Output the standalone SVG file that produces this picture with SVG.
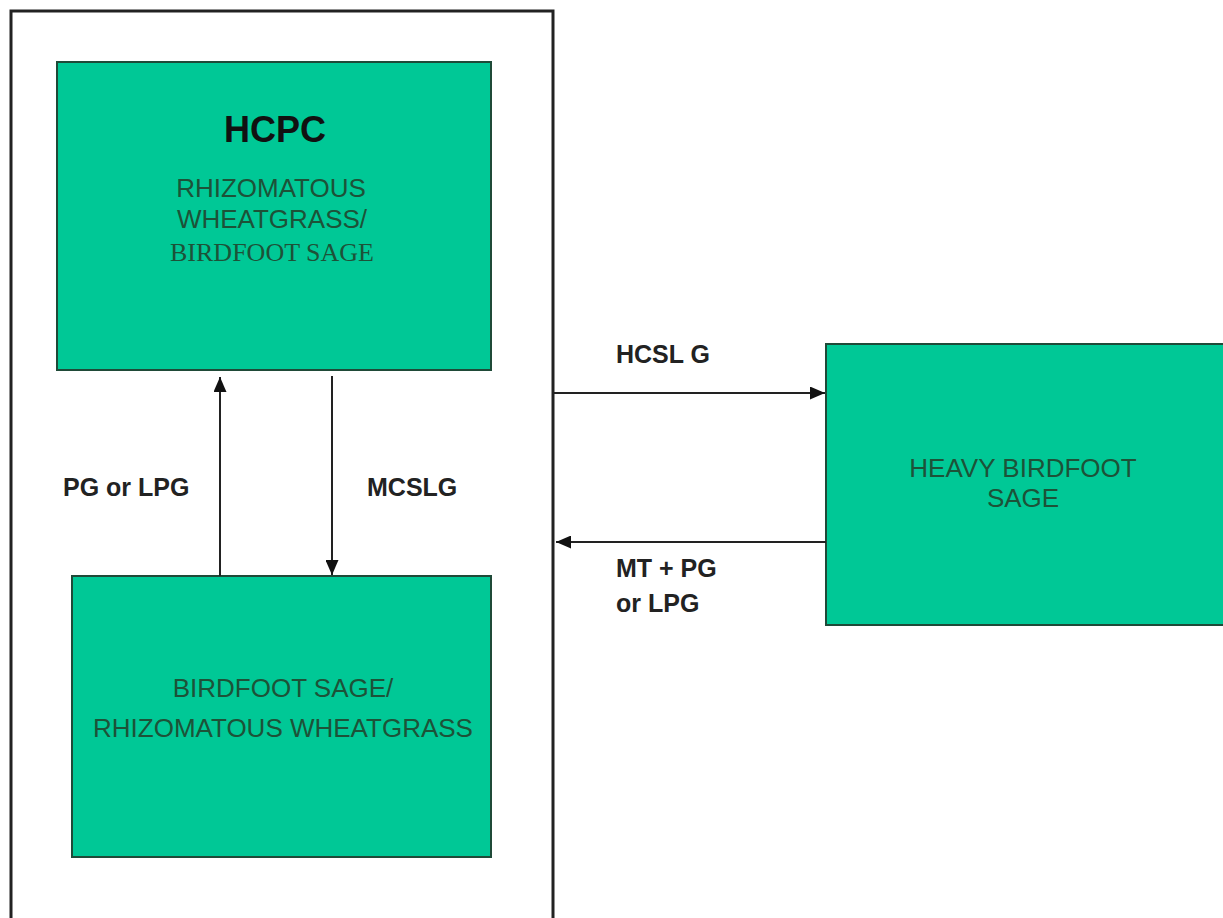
<svg xmlns="http://www.w3.org/2000/svg" width="1223" height="918" viewBox="0 0 1223 918">
<style>
.box{fill:#00c896;stroke:#1f4a38;stroke-width:2}
.t{font-family:"Liberation Sans",Arial,sans-serif;font-size:26px;fill:#1d5238;text-anchor:middle}
.ts{font-family:"Liberation Serif","Times New Roman",serif;font-size:26px;fill:#1d5238;text-anchor:middle}
.lbl{font-family:"Liberation Sans",Arial,sans-serif;font-size:25px;font-weight:bold;fill:#222}
.c{stroke:#222;stroke-width:2;fill:none}
</style>
<defs>
<marker id="ah" viewBox="0 0 10 10" refX="10" refY="5" markerWidth="15" markerHeight="13" orient="auto" markerUnits="userSpaceOnUse" preserveAspectRatio="none">
<path d="M0,0 L10,5 L0,10 z" fill="#111"/>
</marker>
</defs>
<rect width="1223" height="918" fill="#fff"/>
<path d="M11,918 L11,11 L553,11 L553,918" fill="none" stroke="#222" stroke-width="3"/>
<g id="hcpc">
<rect class="box" x="57" y="62" width="434" height="308"/>
<text x="275" y="142" font-family="Liberation Sans,Arial,sans-serif" font-size="36" font-weight="bold" fill="#111" text-anchor="middle">HCPC</text>
<text class="t" x="271" y="197">RHIZOMATOUS</text>
<text class="t" x="272" y="228">WHEATGRASS/</text>
<text class="ts" x="272" y="261">BIRDFOOT SAGE</text>
</g>
<g id="bsrw">
<rect class="box" x="72" y="576" width="419" height="281"/>
<text class="t" x="283" y="697">BIRDFOOT SAGE/</text>
<text class="t" x="283" y="737">RHIZOMATOUS WHEATGRASS</text>
</g>
<g id="hbs">
<rect class="box" x="826" y="344" width="400" height="281"/>
<text class="t" x="1023" y="477">HEAVY BIRDFOOT</text>
<text class="t" x="1023" y="507">SAGE</text>
</g>
<g id="connectors">
<line class="c" x1="220" y1="576" x2="220" y2="377" marker-end="url(#ah)"/>
<line class="c" x1="332" y1="376" x2="332" y2="575" marker-end="url(#ah)"/>
<line class="c" x1="553" y1="393" x2="825" y2="393" marker-end="url(#ah)"/>
<line class="c" x1="826" y1="542" x2="556" y2="542" marker-end="url(#ah)"/>
<text class="lbl" x="63" y="496">PG or LPG</text>
<text class="lbl" x="367" y="496">MCSLG</text>
<text class="lbl" x="616" y="363">HCSL G</text>
<text class="lbl" x="616" y="577">MT + PG</text>
<text class="lbl" x="616" y="612">or LPG</text>
</g>
</svg>
